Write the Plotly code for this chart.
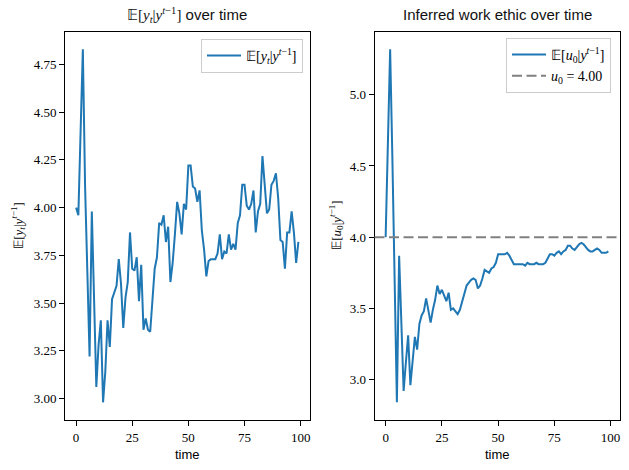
import plotly.graph_objects as go

# ---- data ----
t = list(range(100))

y_hat = [4.00, 3.96, 4.40, 4.83, 4.11, 3.70, 3.22, 3.98, 3.50, 3.06,
         3.28, 3.41, 2.98, 3.14, 3.41, 3.27, 3.52, 3.56, 3.59, 3.73,
         3.60, 3.37, 3.53, 3.61, 3.87, 3.68, 3.67, 3.74, 3.51, 3.70,
         3.36, 3.42, 3.36, 3.35, 3.51, 3.68, 3.74, 3.92, 3.91, 3.96,
         3.82, 3.90, 3.61, 3.71, 3.86, 4.03, 3.97, 3.86, 4.02, 3.99,
         4.22, 4.22, 4.11, 4.10, 4.03, 4.09, 3.88, 3.78, 3.64, 3.72,
         3.73, 3.73, 3.73, 3.76, 3.86, 3.73, 3.77, 3.76, 3.86, 3.78,
         3.81, 3.78, 3.92, 3.96, 4.12, 4.12, 4.01, 3.99, 4.02, 4.09,
         3.87, 3.98, 4.02, 4.27, 4.11, 3.97, 3.99, 4.12, 4.14, 4.18,
         4.05, 3.83, 3.82, 3.68, 3.87, 3.87, 3.98, 3.87, 3.71, 3.82]

u_hat = [4.00, 4.75, 5.32, 4.55, 3.72, 2.84, 3.87, 3.40, 2.92, 3.12,
         3.31, 2.96, 3.14, 3.30, 3.21, 3.39, 3.45, 3.48, 3.57, 3.49,
         3.40, 3.49, 3.56, 3.66, 3.60, 3.63, 3.59, 3.55, 3.61, 3.49,
         3.50, 3.48, 3.46, 3.49, 3.55, 3.59, 3.66, 3.68, 3.70, 3.71,
         3.70, 3.64, 3.66, 3.71, 3.77, 3.76, 3.75, 3.78, 3.79, 3.82,
         3.88, 3.88, 3.88, 3.88, 3.89, 3.87, 3.84, 3.81, 3.81, 3.81,
         3.81, 3.81, 3.80, 3.82, 3.81, 3.81, 3.81, 3.82, 3.81, 3.81,
         3.81, 3.82, 3.85, 3.88, 3.88, 3.87, 3.89, 3.90, 3.88, 3.90,
         3.91, 3.94, 3.94, 3.92, 3.91, 3.93, 3.95, 3.96, 3.95, 3.93,
         3.91, 3.90, 3.90, 3.91, 3.92, 3.91, 3.89, 3.89, 3.89, 3.90]

u0_true = 4.00

x_ticks = [0, 25, 50, 75, 100]
y_ticks_left = [3.00, 3.25, 3.50, 3.75, 4.00, 4.25, 4.50, 4.75]
y_ticks_right = [3.0, 3.5, 4.0, 4.5, 5.0]


def padded(vals, frac=0.05):
    lo, hi = min(vals), max(vals)
    p = frac * (hi - lo)
    return [lo - p, hi + p]


BLUE = "#1f77b4"
SERIF = "Liberation Serif"
SANS = "Liberation Sans"
W, H = 629, 470


def px_x(v):
    return v / W


def px_y(v):
    return 1 - v / H


E_SYM = "𝔼"
lbl_y = f"{E_SYM}[<i>y</i><sub><i>t</i></sub>|<i>y</i><sup><i>t</i>−1</sup>]"
lbl_u = f"{E_SYM}[<i>u</i><sub>0</sub>|<i>y</i><sup><i>t</i>−1</sup>]"

fig = go.Figure()
fig.add_trace(go.Scatter(x=t, y=y_hat, mode="lines", name=lbl_y,
                         line=dict(color=BLUE, width=2),
                         xaxis="x", yaxis="y", legend="legend"))
fig.add_trace(go.Scatter(x=t, y=u_hat, mode="lines", name=lbl_u,
                         line=dict(color=BLUE, width=2),
                         xaxis="x2", yaxis="y2", legend="legend2"))
fig.add_shape(type="line", xref="x2 domain", yref="y2", x0=0, x1=1,
              y0=u0_true, y1=u0_true,
              line=dict(color="#808080", width=2, dash="10px,4.5px"),
              showlegend=True, legend="legend2",
              name=f"<i>u</i><sub>0</sub> = {u0_true:.2f}")

axis_common = dict(showline=True, mirror=True, linecolor="black", linewidth=1,
                   ticks="outside", ticklen=5, tickwidth=1, tickcolor="black",
                   showgrid=False, zeroline=False,
                   tickfont=dict(family=SERIF, size=13, color="black"))

dom_l = [px_x(65), px_x(309.5)]
dom_r = [px_x(374.5), px_x(619.5)]
dom_y = [px_y(420), px_y(31.5)]

legend_style = dict(xanchor="right", yanchor="top",
                    bgcolor="rgba(255,255,255,0.8)", bordercolor="#cccccc",
                    borderwidth=1, itemwidth=34,
                    font=dict(family=SERIF, size=14, color="black"))

fig.update_layout(
    width=W, height=H, margin=dict(l=0, r=0, t=0, b=0),
    paper_bgcolor="white", plot_bgcolor="white",
    xaxis=dict(domain=dom_l, anchor="y", range=padded(t), tickvals=x_ticks,
               **axis_common),
    yaxis=dict(domain=dom_y, anchor="x", range=padded(y_hat),
               tickvals=y_ticks_left, tickformat=".2f", **axis_common),
    xaxis2=dict(domain=dom_r, anchor="y2", range=padded(t), tickvals=x_ticks,
                **axis_common),
    yaxis2=dict(domain=dom_y, anchor="x2", range=padded(u_hat),
                tickvals=y_ticks_right, tickformat=".1f", **axis_common),
    legend=dict(x=px_x(303), y=px_y(39), **legend_style),
    legend2=dict(x=px_x(611), y=px_y(38), **legend_style),
    showlegend=True,
)

ann = []
title_font = dict(family=SANS, size=15, color="#111111")
ann.append(dict(
    text=f'<span style="font-family:{SERIF}">{lbl_y}</span> over time',
    x=(dom_l[0] + dom_l[1]) / 2, y=px_y(15), xref="paper", yref="paper",
    showarrow=False, xanchor="center", yanchor="middle", font=title_font))
ann.append(dict(
    text="Inferred work ethic over time",
    x=(dom_r[0] + dom_r[1]) / 2, y=px_y(15), xref="paper", yref="paper",
    showarrow=False, xanchor="center", yanchor="middle", font=title_font))
for d in (dom_l, dom_r):
    ann.append(dict(text="time", x=(d[0] + d[1]) / 2, y=px_y(454),
                    xref="paper", yref="paper", showarrow=False,
                    xanchor="center", yanchor="middle",
                    font=dict(family=SANS, size=13, color="black")))
ann.append(dict(text=lbl_y, x=px_x(18), y=(dom_y[0] + dom_y[1]) / 2,
                xref="paper", yref="paper", showarrow=False, textangle=-90,
                xanchor="center", yanchor="middle",
                font=dict(family=SERIF, size=13, color="black")))
ann.append(dict(text=lbl_u, x=px_x(336), y=(dom_y[0] + dom_y[1]) / 2,
                xref="paper", yref="paper", showarrow=False, textangle=-90,
                xanchor="center", yanchor="middle",
                font=dict(family=SERIF, size=13, color="black")))
fig.update_layout(annotations=ann)

fig.write_html("out.html")
